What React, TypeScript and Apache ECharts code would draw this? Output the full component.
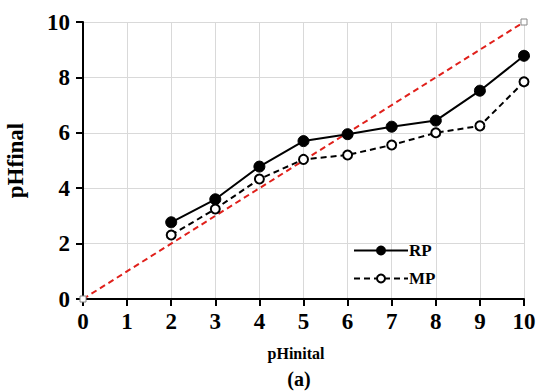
import React, { useEffect, useRef } from "react";
import * as echarts from "echarts";

const phInitial = [2, 3, 4, 5, 6, 7, 8, 9, 10];
const rpValues = [2.77, 3.6, 4.78, 5.7, 5.95, 6.22, 6.44, 7.52, 8.78];
const mpValues = [2.31, 3.25, 4.33, 5.04, 5.2, 5.56, 6.0, 6.25, 7.84];
const refLine = [[0, 0], [10, 10]];

const FONT = "Liberation Serif";

export default function App() {
  const ref = useRef<HTMLDivElement>(null);
  useEffect(() => {
    if (!ref.current) return;
    const chart = echarts.init(ref.current, null, { renderer: "svg" });
    chart.setOption({
      animation: false,
      backgroundColor: "#ffffff",
      grid: { left: 83, right: 13, top: 22, bottom: 92, containLabel: false, outerBoundsMode: "none" },
      legend: {
        data: ["RP", "MP"],
        orient: "vertical",
        left: 348,
        top: 237,
        itemWidth: 54,
        itemHeight: 10,
        itemGap: 11,
        textStyle: { fontFamily: FONT, fontWeight: "bold", fontSize: 17, color: "#000", padding: [0, 0, 0, -4] },
      },
      xAxis: {
        type: "value",
        min: 0,
        max: 10,
        interval: 1,
        axisLine: { show: true, onZero: false, lineStyle: { color: "#000", width: 2 } },
        axisTick: { show: true, inside: false, length: 7, lineStyle: { color: "#000", width: 2 } },
        axisLabel: { fontFamily: FONT, fontWeight: "bold", fontSize: 23, color: "#000", margin: 11 },
        splitLine: { show: true, lineStyle: { color: "#d9d9d9", width: 1 } },
      },
      yAxis: {
        type: "value",
        min: 0,
        max: 10,
        interval: 2,
        name: "pHfinal",
        nameLocation: "middle",
        nameGap: 56,
        nameTextStyle: { fontFamily: FONT, fontWeight: "bold", fontSize: 23, color: "#000" },
        axisLine: { show: true, onZero: false, lineStyle: { color: "#000", width: 2 } },
        axisTick: { show: true, inside: false, length: 7, lineStyle: { color: "#000", width: 2 } },
        axisLabel: { fontFamily: FONT, fontWeight: "bold", fontSize: 23, color: "#000", margin: 13 },
        splitLine: { show: true, lineStyle: { color: "#d9d9d9", width: 1 } },
      },
      graphic: [
        {
          type: "text",
          x: 296,
          y: 353,
          style: { text: "pHinital", fontFamily: FONT, fontWeight: "bold", fontSize: 16, fill: "#000", align: "center", verticalAlign: "middle" },
        },
        {
          type: "text",
          x: 299,
          y: 379,
          style: { text: "(a)", fontFamily: FONT, fontWeight: "bold", fontSize: 20, fill: "#000", align: "center", verticalAlign: "middle" },
        },
      ],
      series: [
        {
          name: "ref",
          type: "line",
          data: refLine,
          symbol: "rect",
          symbolSize: 6,
          showAllSymbol: true,
          lineStyle: { color: "#e0201b", width: 2, type: [6, 4] },
          itemStyle: { color: "#ffffff", borderColor: "#888888", borderWidth: 1 },
          z: 3,
        },
        {
          name: "RP",
          type: "line",
          data: phInitial.map((x, i) => [x, rpValues[i]]),
          symbol: "circle",
          symbolSize: 11,
          lineStyle: { color: "#000", width: 2, type: "solid" },
          itemStyle: { color: "#000", borderColor: "#000", borderWidth: 1 },
          z: 4,
        },
        {
          name: "MP",
          type: "line",
          data: phInitial.map((x, i) => [x, mpValues[i]]),
          symbol: "circle",
          symbolSize: 9,
          lineStyle: { color: "#000", width: 2, type: [6, 4] },
          itemStyle: { color: "#ffffff", borderColor: "#000", borderWidth: 2 },
          z: 4,
        },
      ],
    });
    return () => chart.dispose();
  }, []);
  return <div ref={ref} style={{ width: 537, height: 391, position: "absolute", left: 0, top: 0 }} />;
}
